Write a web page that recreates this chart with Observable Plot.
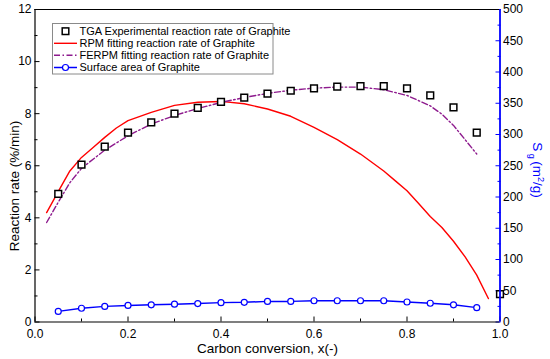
<!DOCTYPE html>
<html><head><meta charset="utf-8">
<script src="https://cdn.jsdelivr.net/npm/d3@7"></script>
<script src="https://cdn.jsdelivr.net/npm/@observablehq/plot@0.6"></script>
<style>
html,body{margin:0;padding:0;background:#fff;}
#chart svg{display:block;}
</style></head><body><div id="chart"></div>
<script>
// ---- data ----
const tgaX = [0.05,0.10,0.15,0.20,0.25,0.30,0.35,0.40,0.45,0.50,0.55,0.60,0.65,0.70,0.75,0.80,0.85,0.90,0.95,1.00];
const tgaRate = [4.92,6.04,6.73,7.27,7.67,8.00,8.22,8.45,8.62,8.77,8.88,8.97,9.04,9.06,9.06,8.97,8.70,8.24,7.27,1.07];

const rpmX = [0.025,0.055,0.075,0.10,0.125,0.15,0.175,0.20,0.25,0.30,0.35,0.40,0.45,0.50,0.55,0.60,0.65,0.70,0.75,0.775,0.80,0.825,0.85,0.875,0.90,0.925,0.95,0.975];
const rpmRate = [4.20,5.17,5.80,6.32,6.70,7.09,7.45,7.73,8.05,8.32,8.44,8.47,8.38,8.18,7.90,7.47,7.00,6.45,5.80,5.42,5.04,4.55,4.05,3.63,3.10,2.50,1.80,0.90];

const ferpmX = [0.025,0.05,0.075,0.10,0.15,0.20,0.25,0.30,0.35,0.40,0.45,0.50,0.55,0.60,0.65,0.70,0.75,0.80,0.85,0.875,0.90,0.925,0.95];
const ferpmRate = [3.82,4.60,5.35,5.90,6.60,7.15,7.60,7.93,8.20,8.43,8.62,8.78,8.90,8.98,9.02,9.02,8.92,8.70,8.30,7.98,7.55,7.00,6.45];

const saX = [0.05,0.10,0.15,0.20,0.25,0.30,0.35,0.40,0.45,0.50,0.55,0.60,0.65,0.70,0.75,0.80,0.85,0.90,0.95];
const saS = [17,22,25,26.5,27.5,28.5,29.5,31,31.5,33,33,34,34,34,34,32,30,27.5,23];

const xMajor = [0,0.2,0.4,0.6,0.8,1.0];
const xMinor = [0.1,0.3,0.5,0.7,0.9];
const yMajor = [0,2,4,6,8,10,12];
const yMinor = [1,3,5,7,9,11];
const sMajor = [0,50,100,150,200,250,300,350,400,450,500];
const sMinor = [25,75,125,175,225,275,325,375,425,475];

const legendLabels = [
  "TGA Experimental reaction rate of Graphite",
  "RPM fitting reaction rate of Graphite",
  "FERPM fitting reaction rate of Graphite",
  "Surface area of Graphite"
];
const xTitle = "Carbon conversion, x(-)";
const yTitle = "Reaction rate (%/min)";

// ---- build ----
const YMAX = 12, SMAX = 500;
const toY = s => s * YMAX / SMAX;
const tga = tgaX.map((x,i)=>({x, y:tgaRate[i]}));
const rpm = rpmX.map((x,i)=>({x, y:rpmRate[i]}));
const ferpm = ferpmX.map((x,i)=>({x, y:ferpmRate[i]}));
const sa = saX.map((x,i)=>({x, y:toY(saS[i])}));

const FONT = "Liberation Sans, Arial, Helvetica, sans-serif";
const RED = "#ff0000", PURPLE = "#8e1b8e", BLUE = "#0000ff";

const plot = Plot.plot({
  width: 550, height: 359,
  marginLeft: 34.5, marginRight: 50.5, marginTop: 9, marginBottom: 37.5,
  style: {fontFamily: FONT, fontSize: "12px", background: "white", color: "black"},
  x: {domain: [0, 1]},
  y: {domain: [0, YMAX]},
  marks: [
    Plot.axisX({ticks: xMajor, tickSize: -5, tickPadding: 12, tickFormat: d3.format(".1f"), label: null}),
    Plot.axisX({ticks: xMinor, tickSize: -3, tickPadding: 0, tickFormat: () => "", label: null}),
    Plot.axisY({ticks: yMajor, tickSize: -5, tickPadding: 8.5, tickFormat: d3.format("d"), label: null}),
    Plot.axisY({ticks: yMinor, tickSize: -3, tickPadding: 0, tickFormat: () => "", label: null}),
    Plot.axisY({anchor: "right", ticks: sMajor.map(toY), tickSize: -5, tickPadding: 8,
      tickFormat: d => String(Math.round(d * SMAX / YMAX)), stroke: BLUE, fill: "black", label: null}),
    Plot.axisY({anchor: "right", ticks: sMinor.map(toY), tickSize: -3, tickPadding: 0,
      tickFormat: () => "", stroke: BLUE, label: null}),
    Plot.ruleY([0], {stroke: "black", strokeWidth: 1.2}),
    Plot.ruleY([YMAX], {stroke: "black", strokeWidth: 1.2}),
    Plot.ruleX([0], {stroke: "black", strokeWidth: 1.2}),
    Plot.line(rpm, {x: "x", y: "y", stroke: RED, strokeWidth: 1.4}),
    Plot.line(ferpm, {x: "x", y: "y", stroke: PURPLE, strokeWidth: 1.4, strokeDasharray: "6,2.5,1.5,2.5"}),
    Plot.line(sa, {x: "x", y: "y", stroke: BLUE, strokeWidth: 1.5}),
    Plot.dot(sa, {x: "x", y: "y", r: 3, fill: "white", stroke: BLUE, strokeWidth: 1.2}),
    Plot.dot(tga, {x: "x", y: "y", symbol: "square", r: 3.8, fill: "white", stroke: "black", strokeWidth: 1.5}),
    Plot.ruleX([1], {stroke: BLUE, strokeWidth: 1.8})
  ]
});
document.getElementById("chart").appendChild(plot);

// ---- titles & legend ----
const svg = d3.select(plot);
const t = svg.append("g").attr("font-family", FONT);
t.append("text").attr("x", 267.5).attr("y", 353).attr("text-anchor", "middle")
  .attr("font-size", 13.5).attr("fill", "black").text(xTitle);
t.append("text").attr("transform", "translate(19,186) rotate(-90)").attr("text-anchor", "middle")
  .attr("font-size", 13.5).attr("fill", "black").text(yTitle);
const rt = t.append("text").attr("transform", "translate(533,170) rotate(90)").attr("text-anchor", "middle")
  .attr("font-size", 13.5).attr("fill", BLUE);
rt.append("tspan").text("S");
rt.append("tspan").attr("font-size", 9).attr("dy", 4).text(" g ");
rt.append("tspan").attr("dy", -4).text("(m");
rt.append("tspan").attr("font-size", 9).attr("dy", -5).text("2");
rt.append("tspan").attr("dy", 5).text("/g)");

const lg = svg.append("g").attr("font-family", FONT).attr("font-size", 11).attr("text-anchor", "start");
lg.append("rect").attr("x", 52.5).attr("y", 23.5).attr("width", 220.5).attr("height", 50.5)
  .attr("fill", "white").attr("stroke", "#8a8a8a").attr("stroke-width", 1);
const rowsY = [31.2, 43.3, 55.3, 67.5];
const sx0 = 54, sx1 = 77, sxm = 65.5;
// row 0: square
lg.append("rect").attr("x", sxm - 3.3).attr("y", rowsY[0] - 3.3).attr("width", 6.6).attr("height", 6.6)
  .attr("fill", "white").attr("stroke", "black").attr("stroke-width", 1.5);
// row 1: red line
lg.append("line").attr("x1", sx0).attr("x2", sx1).attr("y1", rowsY[1]).attr("y2", rowsY[1])
  .attr("stroke", RED).attr("stroke-width", 1.4);
// row 2: purple dash-dot
lg.append("line").attr("x1", sx0).attr("x2", sx1).attr("y1", rowsY[2]).attr("y2", rowsY[2])
  .attr("stroke", PURPLE).attr("stroke-width", 1.4).attr("stroke-dasharray", "6,2.5,1.5,2.5");
// row 3: blue line + circle
lg.append("line").attr("x1", sx0).attr("x2", sx1).attr("y1", rowsY[3]).attr("y2", rowsY[3])
  .attr("stroke", BLUE).attr("stroke-width", 1.5);
lg.append("circle").attr("cx", sxm).attr("cy", rowsY[3]).attr("r", 3)
  .attr("fill", "white").attr("stroke", BLUE).attr("stroke-width", 1.2);
legendLabels.forEach((s, i) => {
  lg.append("text").attr("x", 79.5).attr("y", rowsY[i]).attr("dy", "0.36em")
    .attr("text-anchor", "start").attr("fill", "black").text(s);
});
</script>
</body></html>
